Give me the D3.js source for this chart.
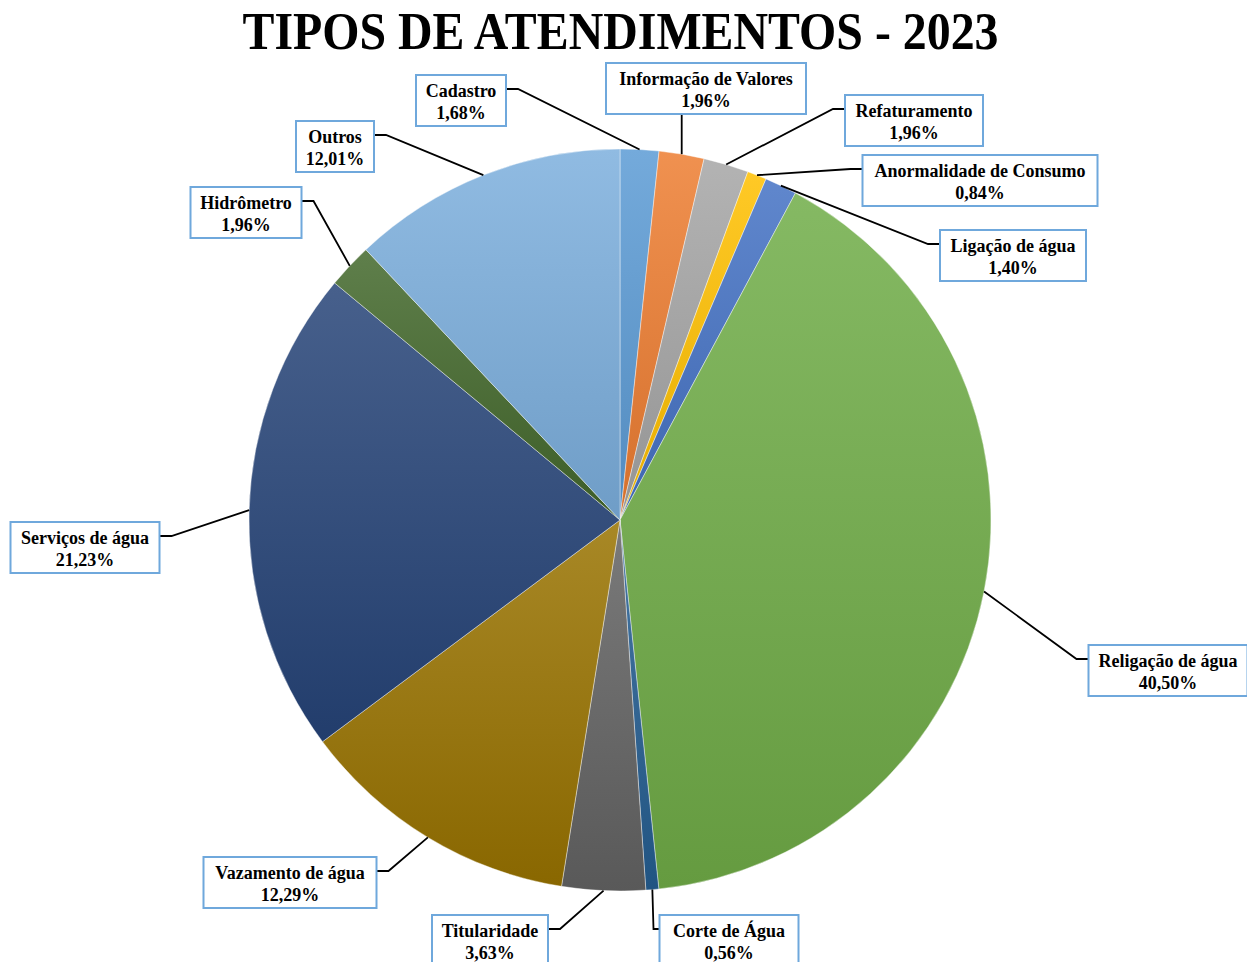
<!DOCTYPE html>
<html>
<head>
<meta charset="utf-8">
<script src="https://cdn.jsdelivr.net/npm/d3@7"></script>
<style>
  body { margin: 0; background: #fff; }
  svg { display: block; }
</style>
</head>
<body>
<div id="chart"></div>
<script>
// data
var categories = ["Cadastro", "Informação de Valores", "Refaturamento", "Anormalidade de Consumo",
  "Ligação de água", "Religação de água", "Corte de Água", "Titularidade",
  "Vazamento de água", "Serviços de água", "Hidrômetro", "Outros"];
var values = [1.68, 1.96, 1.96, 0.84, 1.40, 40.50, 0.56, 3.63, 12.29, 21.23, 1.96, 12.01];
var labels = ["1,68%", "1,96%", "1,96%", "0,84%", "1,40%", "40,50%", "0,56%", "3,63%",
  "12,29%", "21,23%", "1,96%", "12,01%"];
var colors = ["#5B9BD5", "#ED7D31", "#A5A5A5", "#FFC000", "#4472C4", "#70AD47",
  "#255E91", "#636363", "#997300", "#264478", "#43682B", "#7CAFDD"];

// label box placement [center x, top y, width]
var boxes = [
  [461, 75, 90], [706, 63, 200], [914, 95, 138], [980, 155, 235],
  [1013, 230, 146], [1168, 645, 159], [729, 915, 139], [490, 915, 116],
  [290, 857, 173], [85, 522, 149], [246, 187, 111], [335, 121, 78]
];

const width = 1247;
const height = 962;
const cx = 620, cy = 520, radius = 371;
const boxH = 51;

let svg = d3.select('#chart')
  .append('svg')
    .attr('width', width)
    .attr('height', height);

// title
svg.append('text')
  .attr('x', width / 2 - 3)
  .attr('y', 49)
  .attr('text-anchor', 'middle')
  .attr('font-family', 'Liberation Serif, Times New Roman, serif')
  .attr('font-weight', 'bold')
  .attr('font-size', 52)
  .attr('textLength', 756)
  .attr('lengthAdjust', 'spacingAndGlyphs')
  .text('TIPOS DE ATENDIMENTOS - 2023');

let defs = svg.append('defs');
colors.forEach(function(c, i) {
  let grad = defs.append('linearGradient')
    .attr('id', 'g' + i)
    .attr('x1', 0).attr('y1', 0).attr('x2', 0).attr('y2', 1);
  grad.append('stop').attr('offset', '0%').attr('stop-color', d3.interpolateRgb(c, '#fff')(0.15));
  grad.append('stop').attr('offset', '100%').attr('stop-color', d3.color(c).darker(0.3));
});

const pie = d3.pie().sort(null).value((d) => d);
const arcs = pie(values);
const arc = d3.arc().innerRadius(0).outerRadius(radius);
const edge = d3.arc().innerRadius(radius).outerRadius(radius);

let g = svg.append('g')
  .attr('transform', `translate(${cx}, ${cy})`);

g.selectAll('path')
  .data(arcs)
  .enter()
  .append('path')
    .attr('d', arc)
    .attr('fill', (d, i) => `url(#g${i})`)
    .attr('stroke', 'rgba(255,255,255,0.5)')
    .attr('stroke-width', 0.8);

// leader lines + label boxes
arcs.forEach(function(d, i) {
  let b = boxes[i];
  let p = edge.centroid(d);
  let ex = cx + p[0], ey = cy + p[1];
  let left = b[0] - b[2] / 2, right = b[0] + b[2] / 2;
  let pts;
  if (i == 1) {
    pts = [[ex, b[1] + boxH], [ex, ey]];
  } else if (i == 6) {
    pts = [[left, b[1] + 14], [left - 6, b[1] + 14], [ex, ey]];
  } else if (ex > b[0]) {
    pts = [[right, b[1] + 14], [right + 12, b[1] + 14], [ex, ey]];
  } else {
    pts = [[left, b[1] + 14], [left - 12, b[1] + 14], [ex, ey]];
  }
  svg.append('path')
    .attr('d', d3.line()(pts))
    .attr('fill', 'none')
    .attr('stroke', '#000')
    .attr('stroke-width', 1.8);

  svg.append('rect')
    .attr('x', left)
    .attr('y', b[1])
    .attr('width', b[2])
    .attr('height', boxH)
    .attr('fill', '#fff')
    .attr('stroke', '#6FA8DC')
    .attr('stroke-width', 2);

  let t = svg.append('text')
    .attr('x', b[0])
    .attr('text-anchor', 'middle')
    .attr('font-family', 'Liberation Serif, Times New Roman, serif')
    .attr('font-weight', 'bold')
    .attr('font-size', 18)
    .attr('fill', '#000');
  t.append('tspan').attr('x', b[0]).attr('y', b[1] + 22).text(categories[i]);
  t.append('tspan').attr('x', b[0]).attr('y', b[1] + 44).text(labels[i]);
});
</script>
</body>
</html>
